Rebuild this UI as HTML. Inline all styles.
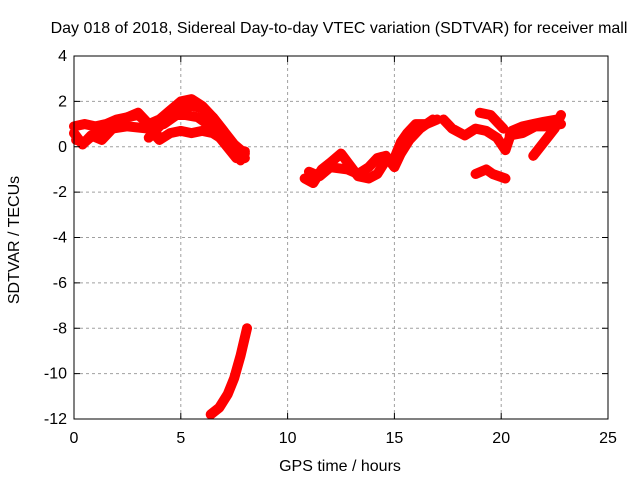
<!DOCTYPE html>
<html><head><meta charset="utf-8"><style>
body{margin:0;background:#fff}
svg text{font-family:"Liberation Sans",sans-serif;font-size:16px;fill:#000}
</style></head><body>
<svg id="c" width="640" height="480">
<rect width="640" height="480" fill="#fff"/>
<g id="grid"></g><g id="series"></g><g id="axes"></g>
</svg>
<script>
const xTicks=[0,5,10,15,20,25];
const yTicks=[4,2,0,-2,-4,-6,-8,-10,-12];
const arcA=[[0,0.9],[0.5,1.0],[1,0.9],[1.5,1.0],[2,1.2],[2.5,1.3],[3,1.4],[3.5,1.0],[4,1.2],[4.5,1.6],[5,2.0],[5.5,2.1],[6,1.8],[6.5,1.3],[7,0.7],[7.5,0.0],[7.8,-0.6]];
const arcB=[[0.1,0.3],[0.5,0.2],[1,0.6],[1.5,0.9],[2,1.1],[2.5,1.3],[3,1.5],[3.5,1.0],[4,0.4]];
const arcB2=[[0,0.6],[0.4,0.1],[0.8,0.5],[1.3,0.3],[1.8,0.8],[2.5,0.9],[3.5,0.8],[4,0.3],[4.5,0.6],[5,0.7],[5.5,0.6],[6,0.7],[6.5,0.6],[7,0.3],[7.5,-0.2],[8,-0.5]];
const arcC=[[3.5,0.4],[4,0.9],[4.5,1.3],[5,1.6],[5.5,1.8],[6,1.7],[6.5,1.3],[7,0.7],[7.5,0.1],[8,-0.3]];
const arcC2=[[4.2,1.0],[4.8,1.4],[5.2,1.4],[5.8,1.3],[6.4,0.9],[7,0.2],[7.6,-0.5],[8,-0.2]];
const arcD=[[6.4,-11.8],[6.8,-11.5],[7.2,-10.9],[7.5,-10.2],[7.8,-9.2],[8.1,-8.0]];
const arcE=[[10.8,-1.4],[11.2,-1.6],[11.6,-1.0],[12,-0.7],[12.5,-0.3],[12.9,-0.8],[13.3,-1.3],[13.8,-1.4],[14.2,-1.2],[14.6,-0.6],[15,-0.5],[15.3,0.2],[15.6,0.6],[16,1.0],[16.5,1.0],[17,1.2]];
const arcE2=[[11,-1.1],[11.5,-1.3],[12,-0.9],[12.8,-1.0],[13.3,-1.2],[13.8,-0.9],[14.2,-0.5],[14.6,-0.4],[15,-0.9],[15.3,-0.3],[15.7,0.3],[16.2,0.8],[16.8,1.2]];
const arcF=[[17.3,1.2],[17.7,0.8],[18.3,0.5],[18.8,0.8],[19.3,0.7],[19.8,0.4],[20.2,-0.15],[20.5,0.7],[21,0.9],[21.5,1.0],[22,1.1],[22.6,1.2]];
const arcF2=[[19,1.5],[19.5,1.4],[19.8,1.1],[20.1,0.8]];
const arcF3=[[20.4,0.5],[21,0.6],[21.6,0.9],[22.2,0.9],[22.8,1.0]];
const arcG=[[18.8,-1.2],[19.3,-1.0],[19.6,-1.2],[20.2,-1.4]];
const arcH=[[21.5,-0.4],[22,0.2],[22.5,0.8],[22.8,1.4]];
const allArcs=[arcA,arcB,arcB2,arcC,arcC2,arcD,arcE,arcE2,arcF,arcF2,arcF3,arcG,arcH];
const L=74,R=608,T=56,B=419;
const X=h=>L+(h-0)/25*(R-L);
const Y=v=>T+(4-v)/16*(B-T);
const NS="http://www.w3.org/2000/svg";
function mk(p,t,a){const e=document.createElementNS(NS,t);for(const k in a)e.setAttribute(k,a[k]);p.appendChild(e);return e;}
const g=document.getElementById('grid'),ax=document.getElementById('axes'),s=document.getElementById('series');
xTicks.forEach(t=>{
 if(t>0&&t<25){const l=mk(g,'line',{x1:X(t),x2:X(t),y1:T,y2:B,stroke:'#a0a0a0','stroke-dasharray':'3,3'});
 
 }
 mk(ax,'line',{x1:X(t),x2:X(t),y1:B,y2:B-6,stroke:'#000'});mk(ax,'line',{x1:X(t),x2:X(t),y1:T,y2:T+6,stroke:'#000'});
 const tx=mk(ax,'text',{x:X(t),y:B+24,'text-anchor':'middle'});tx.textContent=t;
 
 
});
yTicks.forEach(t=>{
 if(t<4&&t>-12){const l=mk(g,'line',{x1:L,x2:R,y1:Y(t),y2:Y(t),stroke:'#a0a0a0','stroke-dasharray':'3,3'});
 
 }
 mk(ax,'line',{x1:L,x2:L+6,y1:Y(t),y2:Y(t),stroke:'#000'});mk(ax,'line',{x1:R,x2:R-6,y1:Y(t),y2:Y(t),stroke:'#000'});
 const tx=mk(ax,'text',{x:L-7,y:Y(t)+5,'text-anchor':'end'});tx.textContent=t;
 
 
});
const fr=mk(ax,'rect',{x:L,y:T,width:R-L,height:B-T,fill:'none',stroke:'#000'});


allArcs.forEach(a=>{
 const p=mk(s,'polyline',{points:a.map(d=>X(d[0])+','+Y(d[1])).join(' '),fill:'none',stroke:'#ff0000','stroke-width':10,'stroke-linejoin':'round','stroke-linecap':'round'});
 
 
});
const ti=mk(ax,'text',{x:339,y:33,'text-anchor':'middle'});ti.textContent='Day 018 of 2018, Sidereal Day-to-day VTEC variation (SDTVAR) for receiver mall';


const xl=mk(ax,'text',{x:340,y:471,'text-anchor':'middle'});xl.textContent='GPS time / hours';


const yl=mk(ax,'text',{x:19,y:240,'text-anchor':'middle',transform:'rotate(-90 19 240)'});yl.textContent='SDTVAR / TECUs';


</script>
</body></html>
